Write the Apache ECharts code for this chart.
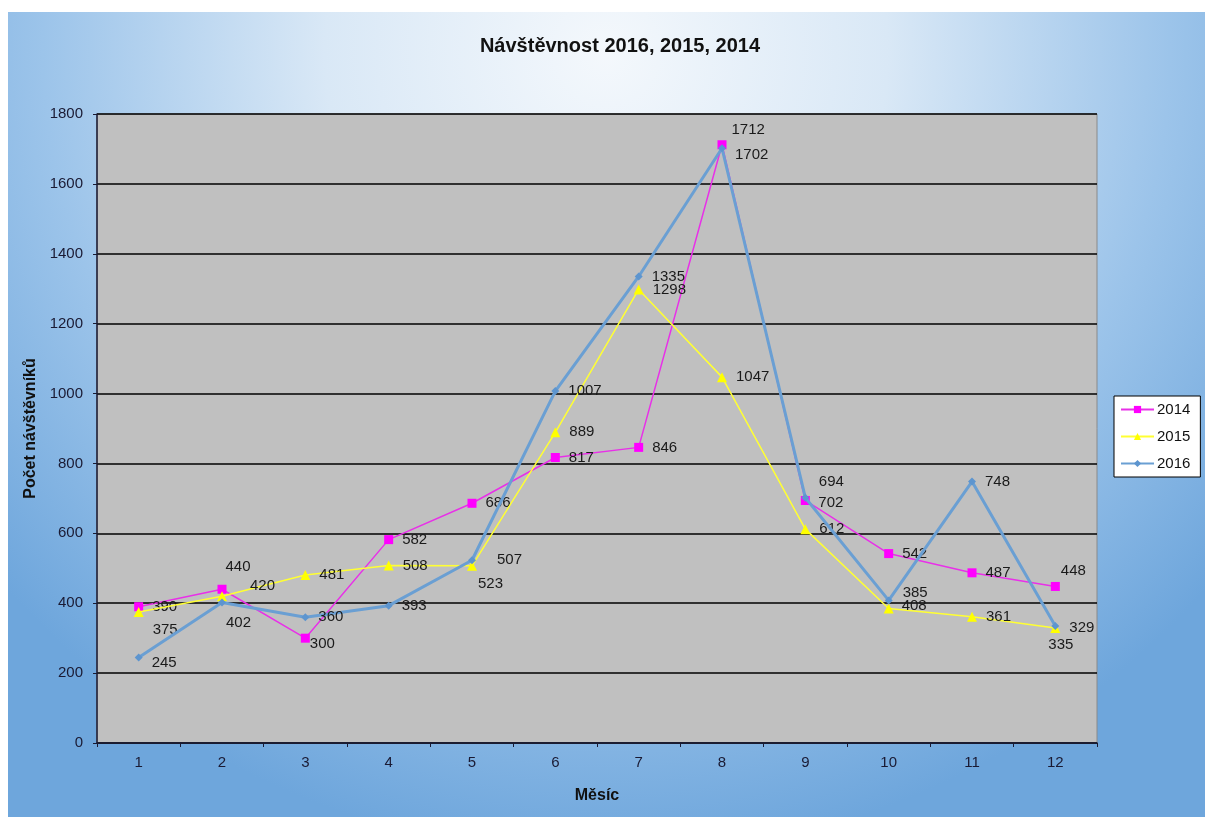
<!DOCTYPE html>
<html>
<head>
<meta charset="utf-8">
<script src="https://cdn.jsdelivr.net/npm/echarts@6/dist/echarts.min.js"></script>
<style>
html,body{margin:0;padding:0;background:#fff;}
#chart{width:1205px;height:817px;}
</style>
</head>
<body>
<div id="chart"></div>
<script>
var months = ['1','2','3','4','5','6','7','8','9','10','11','12'];
var yTicks = [0, 200, 400, 600, 800, 1000, 1200, 1400, 1600, 1800];
var seriesNames = ['2014', '2015', '2016'];
var v2014 = [390, 440, 300, 582, 686, 817, 846, 1712, 694, 542, 487, 448];
var v2015 = [375, 420, 481, 508, 507, 889, 1298, 1047, 612, 385, 361, 329];
var v2016 = [245, 402, 360, 393, 523, 1007, 1335, 1702, 702, 408, 748, 335];

// label nudges (styling only): {index: [dx, dy]} per series
var labelNudge2014 = {1: [-10, -22], 2: [-9, 6], 7: [-4, -15], 8: [0, -19], 11: [-8, -16]};
var labelNudge2015 = {0: [0, 18], 1: [14, -10], 4: [11, -6], 9: [0, -16]};
var labelNudge2016 = {0: [0, 5], 1: [-9, 20], 4: [-7, 24], 7: [0, 7], 8: [0, 5], 9: [0, 5], 11: [-20, 19]};

function withNudges(values, nudges) {
  return values.map(function (v, i) {
    if (nudges[i]) return {value: v, label: {offset: nudges[i]}};
    return v;
  });
}

var chart = echarts.init(document.getElementById('chart'), null, {renderer: 'canvas'});
var font = 'Liberation Sans, Arial, sans-serif';
var labelStyle = {show: true, position: 'right', distance: 9, fontFamily: font, fontSize: 15, color: '#1a1a1a'};

chart.setOption({
  backgroundColor: '#ffffff',
  animation: false,
  graphic: [{
    type: 'rect', z: -10, silent: true,
    shape: {x: 8, y: 12, width: 1197, height: 805},
    style: {
      fill: new echarts.graphic.RadialGradient(0.5, 0.05, 1.0, [
        {offset: 0, color: '#f4f8fc'},
        {offset: 0.35, color: '#d9e8f6'},
        {offset: 0.7, color: '#9cc4ea'},
        {offset: 1, color: '#6ea6dc'}
      ])
    }
  }],
  title: {
    text: 'Návštěvnost 2016, 2015, 2014',
    left: 615, top: 31,
    textAlign: 'center',
    textStyle: {fontFamily: font, fontSize: 20, fontWeight: 'bold', color: '#111'}
  },
  legend: {
    orient: 'vertical',
    left: 1114, top: 396,
    backgroundColor: '#ffffff',
    borderColor: '#000000', borderWidth: 1, borderRadius: 0,
    padding: [6, 10, 6, 6],
    itemGap: 12,
    itemWidth: 33, itemHeight: 9,
    data: seriesNames,
    textStyle: {fontFamily: font, fontSize: 15, color: '#111', padding: [0, 0, 0, -2]}
  },
  grid: {
    left: 97, right: 108, top: 114, bottom: 74,
    show: true, backgroundColor: '#c0c0c0', borderColor: '#8a8a8a', borderWidth: 1
  },
  xAxis: {
    type: 'category',
    data: months,
    boundaryGap: true,
    name: 'Měsíc', nameLocation: 'middle', nameGap: 45,
    nameTextStyle: {fontFamily: font, fontSize: 16, fontWeight: 'bold', color: '#111'},
    axisLine: {lineStyle: {color: '#1a1a33', width: 1.5}},
    axisTick: {show: true, length: 4, lineStyle: {color: '#1a1a33'}},
    axisLabel: {fontFamily: font, fontSize: 15, color: '#1a1a33', margin: 12},
    splitLine: {show: false}
  },
  yAxis: {
    type: 'value',
    min: yTicks[0], max: yTicks[yTicks.length - 1], interval: yTicks[1] - yTicks[0],
    name: 'Počet návštěvníků', nameLocation: 'middle', nameGap: 53,
    nameTextStyle: {fontFamily: font, fontSize: 16, fontWeight: 'bold', color: '#111'},
    axisLine: {show: true, lineStyle: {color: '#1a1a33', width: 1.5}},
    axisTick: {show: true, length: 4, lineStyle: {color: '#1a1a33'}},
    axisLabel: {fontFamily: font, fontSize: 15, color: '#1a1a33', margin: 14,
      formatter: function (v) { return String(v); }},
    splitLine: {show: true, lineStyle: {color: '#000000', width: 1.5}}
  },
  series: [
    {
      name: seriesNames[0], type: 'line', data: withNudges(v2014, labelNudge2014),
      symbol: 'rect', symbolSize: 9,
      lineStyle: {color: '#e830e8', width: 1.5},
      itemStyle: {color: '#ff00ff'},
      label: labelStyle,
      z: 3
    },
    {
      name: seriesNames[1], type: 'line', data: withNudges(v2015, labelNudge2015),
      symbol: 'triangle', symbolSize: 10,
      lineStyle: {color: '#ffff33', width: 1.5},
      itemStyle: {color: '#ffff00'},
      label: labelStyle,
      z: 4
    },
    {
      name: seriesNames[2], type: 'line', data: withNudges(v2016, labelNudge2016),
      symbol: 'diamond', symbolSize: 8,
      lineStyle: {color: '#6a9fd3', width: 3},
      itemStyle: {color: '#5d95cf'},
      label: labelStyle,
      z: 5
    }
  ]
});
</script>
</body>
</html>
